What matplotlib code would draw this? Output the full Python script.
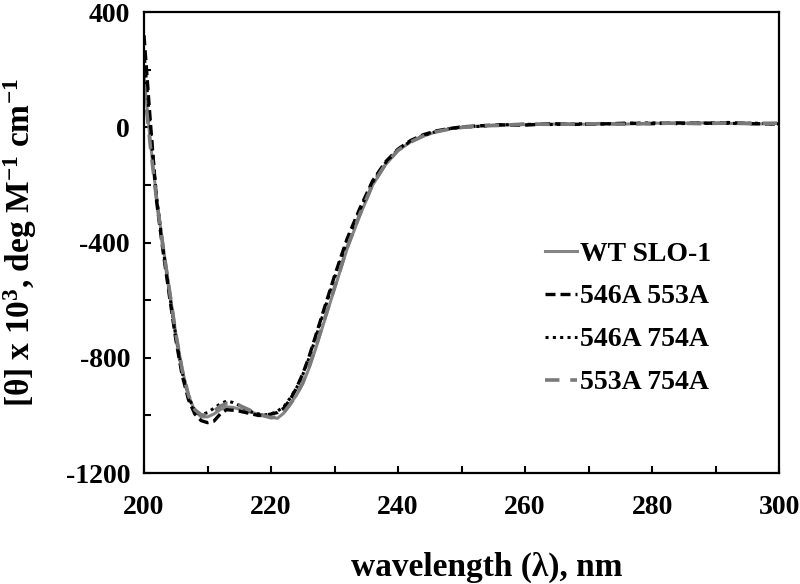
import numpy as np
import matplotlib.pyplot as plt
from matplotlib.ticker import MultipleLocator

plt.rcParams['font.family'] = ['Liberation Serif', 'DejaVu Serif']
plt.rcParams['font.weight'] = 'bold'
plt.rcParams['axes.labelweight'] = 'bold'
plt.rcParams['axes.unicode_minus'] = False
plt.rcParams['mathtext.fontset'] = 'custom'
plt.rcParams['mathtext.rm'] = 'Liberation Serif:bold'
plt.rcParams['mathtext.bf'] = 'Liberation Serif:bold'
plt.rcParams['mathtext.it'] = 'Liberation Serif:bold'
plt.rcParams['mathtext.default'] = 'bf'

# wavelength grid (nm)
wl = [200, 201, 202, 203, 204, 205, 206, 207, 208, 209, 210, 211, 212, 213, 214,
      215, 216, 217, 218, 219, 220, 221, 222, 223, 224, 225, 226, 227, 228, 229,
      230, 232, 234, 236, 238, 240, 242, 244, 246, 248, 250, 253, 256, 260, 264,
      268, 272, 276, 280, 284, 288, 292, 296, 300]

wt_slo1 = [180, -50, -250, -410, -565, -715, -840, -930, -985, -1005, -1005, -995,
           -980, -970, -972, -978, -985, -990, -995, -1000, -1005, -1010, -992,
           -960, -930, -890, -835, -770, -700, -630, -560, -420, -305, -200, -130,
           -80, -50, -30, -15, -5, 0, 5, 8, 10, 12, 10, 14, 12, 15, 14, 16, 14, 12, 14]

m546_553 = [320, 20, -260, -430, -585, -735, -860, -945, -995, -1018, -1025, -1020,
            -995, -980, -982, -985, -990, -995, -1000, -1000, -995, -990, -975,
            -945, -905, -855, -795, -725, -655, -585, -515, -385, -280, -185, -120,
            -75, -45, -25, -12, -4, 2, 6, 9, 8, 13, 11, 12, 15, 13, 16, 14, 17, 13, 12]

m546_754 = [260, 0, -245, -420, -575, -725, -850, -935, -985, -998, -990, -975,
            -960, -950, -955, -965, -978, -988, -995, -998, -995, -985, -970,
            -940, -905, -858, -800, -732, -662, -592, -522, -392, -285, -190, -123,
            -76, -48, -28, -14, -5, 1, 4, 9, 11, 10, 13, 12, 14, 16, 13, 15, 14, 15, 12]

m553_754 = [150, -65, -255, -415, -565, -715, -840, -930, -980, -998, -1000, -985,
            -968, -958, -958, -965, -975, -985, -995, -1002, -1008, -1005, -990,
            -962, -928, -885, -830, -765, -695, -625, -555, -415, -300, -197, -128,
            -79, -50, -29, -15, -6, 0, 6, 7, 12, 11, 12, 13, 11, 14, 15, 13, 16, 14, 15]

fig = plt.figure(figsize=(8, 5.84), dpi=100)
ax = fig.add_axes([0.18, 0.19, 0.794, 0.789])

ax.plot(wl, wt_slo1, color='#858585', lw=2.2, label='WT SLO-1')
ax.plot(wl, m546_553, color='black', lw=2.4, dashes=(3, 1.5), label='546A 553A')
ax.plot(wl, m546_754, color='black', lw=2.2, dashes=(1, 1.4), label='546A 754A')
ax.plot(wl, m553_754, color='#7a7a7a', lw=2.6, dashes=(4, 3), label='553A 754A')

ax.set_xlim(200, 300)
ax.set_ylim(-1200, 400)
ax.xaxis.set_major_locator(MultipleLocator(20))
ax.xaxis.set_minor_locator(MultipleLocator(10))
ax.yaxis.set_major_locator(MultipleLocator(400))
ax.yaxis.set_minor_locator(MultipleLocator(200))
ax.tick_params(which='both', direction='in', length=5, width=1.5, labelsize=20)
ax.tick_params(axis='x', which='major', pad=16)
ax.tick_params(axis='y', which='major', pad=10)
for s in ax.spines.values():
    s.set_linewidth(1.6)

ax.set_xlabel('wavelength (λ), nm', fontsize=24, fontweight='bold', va='center')
ax.xaxis.set_label_coords(0.54, -0.204)
ax.set_ylabel('[θ] x 10$^{3}$, deg M$^{-1}$ cm$^{-1}$', fontsize=24,
              fontweight='bold', va='center')
ax.yaxis.set_label_coords(-0.195, 0.5)

ax.legend(loc='center left', bbox_to_anchor=(0.632, 0.336), frameon=False,
          fontsize=20, handlelength=1.15, handletextpad=0.1, labelspacing=0.63,
          borderpad=0, borderaxespad=0)

fig.savefig('out.png', dpi=100)
